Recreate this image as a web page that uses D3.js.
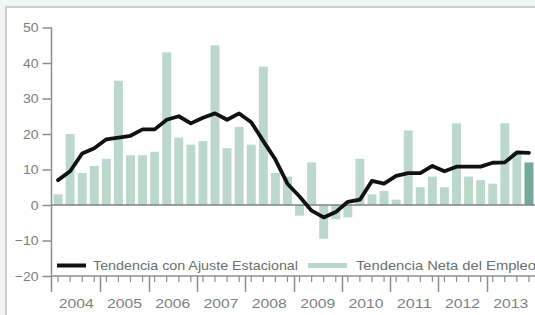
<!DOCTYPE html>
<html>
<head>
<meta charset="utf-8">
<script src="https://cdn.jsdelivr.net/npm/d3@7"></script>
<style>
  html, body { margin: 0; padding: 0; background: #f3f5f4; }
  svg { display: block; }
  text { font-family: "Liberation Sans", Arial, sans-serif; }
</style>
</head>
<body>
<svg id="chart" width="535" height="315"></svg>
<script>
// ---- data ----
const years = ["2004","2005","2006","2007","2008","2009","2010","2011","2012","2013"];
const quarters = years.flatMap(y => ["T1","T2","T3","T4"].map(q => y + "-" + q));
const netEmployment = [3, 20, 9, 11, 13, 35, 14, 14, 15, 43, 19, 17, 18, 45, 16, 22,
  17, 39, 9, 8, -3, 12, -9.5, -4, -3.5, 13, 3, 4, 1.5, 21, 5, 8, 5, 23, 8, 7, 6, 23, 15, 12];
const seasonalTrend = [7, 9.5, 14.5, 16, 18.5, 19, 19.5, 21.3, 21.3, 24, 25, 23, 24.6, 25.8, 24, 25.8,
  23.3, 18, 12.8, 6, 2.4, -1.6, -3.5, -2, 0.9, 1.5, 6.8, 6, 8.2, 9, 9, 11, 9.5, 10.8, 10.8, 10.8, 11.9, 12, 14.8, 14.7];
const yTicks = [-20, -10, 0, 10, 20, 30, 40, 50];
const legendLabels = ["Tendencia con Ajuste Estacional", "Tendencia Neta del Empleo"];

// ---- layout ----
const svg = d3.select("#chart");
const axisColor = "#8a8f8c";
const textColor = "#7c817e";

// outer frame
svg.append("rect").attr("x", 6).attr("y", 7).attr("width", 540).attr("height", 320)
  .attr("fill", "#ffffff").attr("stroke", "#c9d0cc").attr("stroke-width", 2);

const x = d3.scaleBand().domain(quarters).range([52, 535]).paddingInner(0.26).paddingOuter(0.13);
const xYear = d3.scaleBand().domain(years).range([52, 535]);
const y = d3.scaleLinear().domain([-20, 50]).range([276, 27.5]);

// bars
svg.append("g").selectAll("rect").data(netEmployment).join("rect")
  .attr("x", (d, i) => x(quarters[i]))
  .attr("width", x.bandwidth())
  .attr("y", d => y(Math.max(0, d)))
  .attr("height", d => Math.abs(y(d) - y(0)))
  .attr("fill", (d, i) => i === netEmployment.length - 1 ? "#74a995" : "#bcd8cd");

// zero line
svg.append("line").attr("x1", 52).attr("x2", 535).attr("y1", y(0)).attr("y2", y(0))
  .attr("stroke", "#7d8380").attr("stroke-width", 1.5);

// trend line
const line = d3.line()
  .x((d, i) => x(quarters[i]) + x.bandwidth() / 2)
  .y(d => y(d));
svg.append("path").datum(seasonalTrend).attr("d", line)
  .attr("fill", "none").attr("stroke", "#111").attr("stroke-width", 3.8)
  .attr("stroke-linejoin", "round").attr("stroke-linecap", "round");

// y axis
const yAxis = d3.axisLeft(y).tickValues(yTicks).tickSize(9).tickPadding(3).tickFormat(d3.format("d"));
const gy = svg.append("g").attr("transform", "translate(51.5,0)").call(yAxis);
gy.select(".domain").remove();
gy.append("line").attr("x1", 0).attr("x2", 0).attr("y1", y(50)).attr("y2", 292)
  .attr("stroke", axisColor).attr("stroke-width", 1.5);
gy.selectAll(".tick line").attr("stroke", axisColor).attr("stroke-width", 1.5);
gy.selectAll(".tick text").attr("fill", textColor).attr("font-size", 13)
  .attr("transform", "scale(1.08,1)").attr("dy", "0.34em");

// x axis (quarter minor ticks + year major ticks)
svg.append("line").attr("x1", 51).attr("x2", 535).attr("y1", y(-20)).attr("y2", y(-20))
  .attr("stroke", axisColor).attr("stroke-width", 1.5);
const gMinor = svg.append("g").attr("transform", `translate(0,${y(-20)})`)
  .call(d3.axisBottom(x).tickSize(6).tickFormat(""));
gMinor.select(".domain").remove();
gMinor.selectAll(".tick line").attr("stroke", axisColor).attr("stroke-width", 1.2);
const gMajor = svg.append("g").attr("transform", `translate(0,${y(-20)})`);
gMajor.selectAll("line").data(years.slice(1)).join("line")
  .attr("x1", d => Math.round(xYear(d)) + 0.5).attr("x2", d => Math.round(xYear(d)) + 0.5)
  .attr("y1", 0).attr("y2", 16).attr("stroke", axisColor).attr("stroke-width", 1.5);
gMajor.selectAll("text").data(years).join("text")
  .attr("x", d => xYear(d) + xYear.bandwidth() / 2)
  .attr("y", 32).attr("text-anchor", "middle")
  .attr("fill", textColor).attr("font-size", 13)
  .attr("textLength", 35).attr("lengthAdjust", "spacingAndGlyphs")
  .text(d => d);

// legend
const lg = svg.append("g");
lg.append("line").attr("x1", 57).attr("x2", 86).attr("y1", 265.5).attr("y2", 265.5)
  .attr("stroke", "#111").attr("stroke-width", 4);
lg.append("text").attr("x", 93).attr("y", 270).attr("fill", "#6a706d").attr("font-size", 13)
  .attr("textLength", 205).attr("lengthAdjust", "spacingAndGlyphs")
  .text(legendLabels[0]);
lg.append("line").attr("x1", 308).attr("x2", 347).attr("y1", 265.5).attr("y2", 265.5)
  .attr("stroke", "#bcd8cd").attr("stroke-width", 5);
lg.append("text").attr("x", 356).attr("y", 270).attr("fill", "#6a706d").attr("font-size", 13)
  .attr("textLength", 180).attr("lengthAdjust", "spacingAndGlyphs")
  .text(legendLabels[1]);
</script>
</body>
</html>
